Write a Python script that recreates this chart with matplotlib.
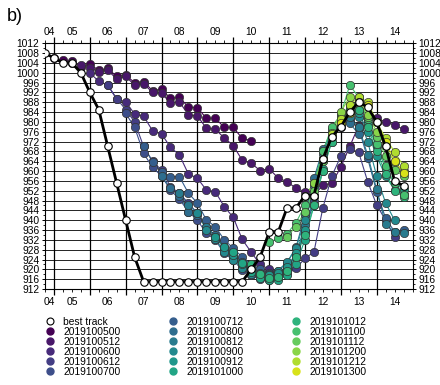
import numpy as np
import matplotlib
matplotlib.use('Agg')
import matplotlib.pyplot as plt
from matplotlib.lines import Line2D
from matplotlib.ticker import MultipleLocator, FixedLocator

plt.rcParams['font.family'] = ['Liberation Sans', 'DejaVu Sans']

# x axis = day of Oct 2019 (UTC), every point is 6 h apart
day_labels = ['04', '05', '06', '07', '08', '09', '10', '11', '12', '13', '14']
bt_start = 4.75
best_track = [1008, 1006, 1004, 1004, 1000, 992, 985, 970, 955, 940, 925, 915, 915,
              915, 915, 915, 915, 915, 915, 915, 915, 915, 915, 920, 925,
              935, 935, 945, 945, 950, 950, 965, 974, 978, 984, 988, 986,
              980, 970, 956, 954]

fc_0500 = [1006, 1005, 1004.8, 1002.5, 1003.5, 1001, 1001.8, 998.5, 999, 996, 996.4,
           992.7, 993.3, 989.6, 990, 986, 985.8, 981.5, 981.5, 977.8, 977.8, 973.3, 972.4]
fc_0512 = [1004, 1003, 1002, 1000.5, 1001, 997.5, 998.5, 995, 995.5, 992, 991.6, 987.8,
           988.2, 982.8, 982.4, 977.5, 977, 973.5, 970.4, 964.4, 963.2, 960.2, 961, 957.2,
           955.7, 953, 951.6, 950, 954.3, 955, 961.6, 970, 978.5, 981, 981.5, 980, 978.7, 977]
fc_0600 = [1000, 996.5, 995, 989.2, 988.2, 983.2, 982.4, 976.4, 975.1, 969.7, 966.5, 958.8,
           957.1, 952.3, 951.6, 945.5, 941.2, 932.2, 927, 922, 920, 918.5, 919]
fc_0612 = [995, 989.5, 985, 980, 970, 964, 960.4, 953.6, 951, 946.9, 942.9, 937.4, 933.3,
           928.6, 925.1, 921, 918.5, 917, 916.5, 916.6, 918, 920.4, 924.5, 927, 945, 958,
           966, 969, 967.6, 955.7, 946.2, 940, 933]
fc_0700 = [983.5, 977.8, 967.2, 961.5, 958, 952.3, 948.5, 943.5, 940, 934.7, 932, 926.5,
           923.8, 919.7, 917.5, 916, 915.5, 917, 920, 926, 935, 948, 960]
fc_0712 = [970, 963.8, 959.5, 957.7, 957.7, 951, 947, 940.1, 937.4, 932, 928.6, 925, 922,
           920, 918.5, 919, 921, 925, 935, 950, 965, 974, 978, 980.8, 977.4, 965.2, 951.6,
           940.8, 935.3, 936.2]
fc_0800 = [958, 953, 950, 943.5, 942, 937, 934, 929, 926.5, 923, 920, 918.5, 918, 919.5,
           922.5, 929, 942, 957, 969, 975.5, 978.5, 979.5, 975]
fc_0812 = [951, 946, 943, 937.4, 933.3, 928.6, 925.1, 921, 919.5, 917.5, 917, 918.5, 921,
           926, 938, 954, 967, 976, 980, 982, 978, 966.5, 952.5, 938.3, 935.3, 934.7]
fc_0900 = [943, 936, 932.5, 927, 924, 920.5, 918, 917, 917.5, 919.5, 923, 928.5, 940, 955,
           968, 977, 982.5, 984.5, 982, 972, 958, 947, 940]
fc_0912 = [933, 929, 926, 922, 920, 918, 917.5, 918.5, 921, 926.5, 936, 950, 964, 974.5,
           981, 985, 983.5, 976, 966, 958, 952.3, 950.5]
fc_1000 = [927, 922.5, 919, 916.4, 915.7, 915.7, 917.5, 922, 932, 946, 961, 972, 979.5,
           984, 985, 979, 970, 961, 955, 952.5]
fc_1012 = [922, 918, 916.5, 917, 919.5, 925, 934, 946, 960, 972, 980, 985.5, 985, 978,
           968, 959, 952, 949.5]
fc_1100 = [931, 932.6, 934.5, 939, 946, 955, 968, 978, 983, 995, 990, 981, 971, 962, 955, 950.3]
fc_1112 = [933.3, 937.4, 943.5, 952, 964, 975, 982, 987, 988, 982, 974, 966, 960.4, 958]
fc_1200 = [950, 955, 965, 975.5, 984, 990.3, 989, 983, 976, 970, 963.5, 960]
fc_1212 = [965, 975, 981, 987, 990, 988.2, 980, 973.3, 967.9, 962]
fc_1300 = [979.4, 983.5, 988, 987, 980, 972, 964, 959.3]

fc_names = ['2019100500', '2019100512', '2019100600', '2019100612', '2019100700',
            '2019100712', '2019100800', '2019100812', '2019100900', '2019100912',
            '2019101000', '2019101012', '2019101100', '2019101112', '2019101200',
            '2019101212', '2019101300']
fc_vals = [fc_0500, fc_0512, fc_0600, fc_0612, fc_0700, fc_0712, fc_0800, fc_0812,
           fc_0900, fc_0912, fc_1000, fc_1012, fc_1100, fc_1112, fc_1200, fc_1212, fc_1300]

colors = plt.get_cmap('viridis')(np.linspace(0, 0.94, len(fc_names)))

fig = plt.figure(figsize=(4.4, 3.85), dpi=100)
ax = fig.add_axes([45 / 440, 1 - 289 / 385, 367.5 / 440, 245.7 / 385])
ax.set_xlim(4.75, 15.0)
ax.set_ylim(912, 1012)

# grid
for p in range(916, 1012, 4):
    ax.axhline(p, color='k', lw=0.6, zorder=0.5)
for d in range(5, 15):
    ax.axvline(d, color='k', lw=0.9, zorder=0.5)

# forecasts
for name, vals, c in zip(fc_names, fc_vals, colors):
    t0 = int(name[6:8]) + int(name[8:10]) / 24
    t = t0 + 0.25 * np.arange(len(vals))
    ax.plot(t, vals, '-', color=c, lw=0.8, zorder=2)
    ax.plot(t, vals, 'o', ls='none', mfc=c, mec='#333333', mew=0.5, ms=6, zorder=3)

# best track
tb = bt_start + 0.25 * np.arange(len(best_track))
ax.plot(tb, best_track, '-', color='k', lw=2, zorder=5)
ax.plot(tb, best_track, 'o', ls='none', mfc='white', mec='k', mew=0.8, ms=5.4, zorder=6)

# ticks
ax.yaxis.set_major_locator(MultipleLocator(4))
ax.yaxis.set_minor_locator(MultipleLocator(2))
ax.xaxis.set_major_locator(FixedLocator(range(5, 15)))
ax.xaxis.set_minor_locator(MultipleLocator(0.25))
ax.tick_params(axis='y', which='both', left=True, right=True, labelleft=True,
               labelright=True, direction='out', labelsize=7.4, pad=1.5)
ax.tick_params(axis='y', which='major', length=2.5, width=0.7)
ax.tick_params(axis='y', which='minor', length=1.5, width=0.6)
ax.tick_params(axis='x', which='both', top=True, bottom=True, labelbottom=False,
               direction='out')
ax.tick_params(axis='x', which='major', length=4, width=0.9)
ax.tick_params(axis='x', which='minor', length=2, width=0.6)
for s in ax.spines.values():
    s.set_linewidth(0.8)

xtr = ax.get_xaxis_transform()
for i, lab in enumerate(day_labels):
    d = int(lab)
    xc = (max(d, 4.75) + min(d + 1, 15.0)) / 2
    ax.text(xc, 1.046, lab, transform=xtr, ha='center', va='center', fontsize=7.4)
    ax.text(xc, -0.053, lab, transform=xtr, ha='center', va='center', fontsize=7.4)

fig.text(0.015, 0.978, 'b)', fontsize=13, va='top', ha='left')

# legend
handles = [Line2D([], [], ls='none', marker='o', ms=5, mfc='white', mec='k', mew=0.8)]
for c in colors:
    handles.append(Line2D([], [], ls='none', marker='o', ms=5, mfc=c, mec=c))
labels = ['best track'] + fc_names
fig.legend(handles, labels, ncol=3, loc='upper left', bbox_to_anchor=(46 / 440, 1 - 317 / 385),
           frameon=False, fontsize=7.4, handlelength=0.8, handletextpad=0.9,
           columnspacing=4.7, labelspacing=0, borderpad=0, borderaxespad=0)

fig.savefig('out.png', dpi=100)
